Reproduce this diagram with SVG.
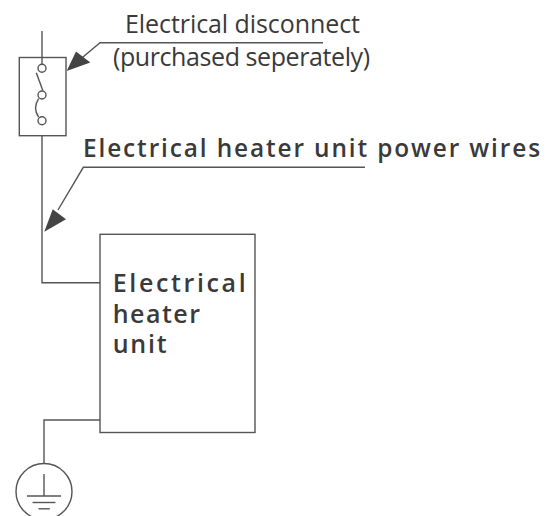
<svg xmlns="http://www.w3.org/2000/svg" width="559" height="516" viewBox="0 0 559 516">
<style>
.w{fill:none;stroke:#555;stroke-width:1.4}
.box{fill:#fff;stroke:#555;stroke-width:1.4}
.ah{fill:#444;stroke:none}
.t{font-family:"Open Sans","Noto Sans","Liberation Sans",sans-serif;fill:#3a3a3a}
.tl{font-size:25px;font-weight:400}
.tb{font-size:24.4px;font-weight:600}
.th{font-size:25px;font-weight:600}
</style>
<rect width="559" height="516" fill="#fff"/>
<g id="disconnect">
  <rect class="box" x="19.3" y="57.5" width="46.7" height="78.2"/>
  <line class="w" x1="42" y1="31" x2="42" y2="64.3"/>
  <circle class="w" cx="42" cy="68.3" r="4"/>
  <circle class="w" cx="42" cy="95" r="4"/>
  <circle class="w" cx="42" cy="120.7" r="4"/>
  <line class="w" x1="36.3" y1="72.7" x2="42.8" y2="90.5"/>
  <path class="w" d="M38.6,98.6 Q32.5,108 38.6,117"/>
</g>
<g id="heater">
  <rect class="box" x="100" y="234.3" width="155" height="198.2"/>
  <text class="t th" x="112.7" y="292.3" textLength="133" lengthAdjust="spacing">Electrical</text>
  <text class="t th" x="112.7" y="323.3" textLength="87.3" lengthAdjust="spacing">heater</text>
  <text class="t th" x="112.7" y="353.3" textLength="54" lengthAdjust="spacing">unit</text>
</g>
<g id="ground">
  <circle class="w" cx="44" cy="491.5" r="28"/>
  <line class="w" x1="44" y1="474" x2="44" y2="496"/>
  <line class="w" x1="27" y1="496" x2="61" y2="496"/>
  <line class="w" x1="32.5" y1="502.5" x2="55.5" y2="502.5"/>
  <line class="w" x1="38.5" y1="508.8" x2="49.8" y2="508.8"/>
</g>
<g id="labels">
  <text class="t tl" x="125" y="33" textLength="235" lengthAdjust="spacing">Electrical disconnect</text>
  <text class="t tl" x="113" y="65.5" textLength="257" lengthAdjust="spacing">(purchased seperately)</text>
  <text class="t tb" x="83" y="157" textLength="457" lengthAdjust="spacing">Electrical heater unit power wires</text>
</g>
<g id="connectors">
  <polyline class="w" points="42,135.7 42,282.7 100,282.7"/>
  <polyline class="w" points="100,420 44,420 44,463.5"/>
  <polyline class="w" points="323,42.7 100,42.7 80,59.5"/>
  <polygon class="ah" points="66.7,71 76,51.5 90.3,62.5"/>
  <polyline class="w" points="365,167.3 83.3,167.3 58,210"/>
  <polygon class="ah" points="44.3,231.7 52.7,209.3 66,219.3"/>
</g>
</svg>
